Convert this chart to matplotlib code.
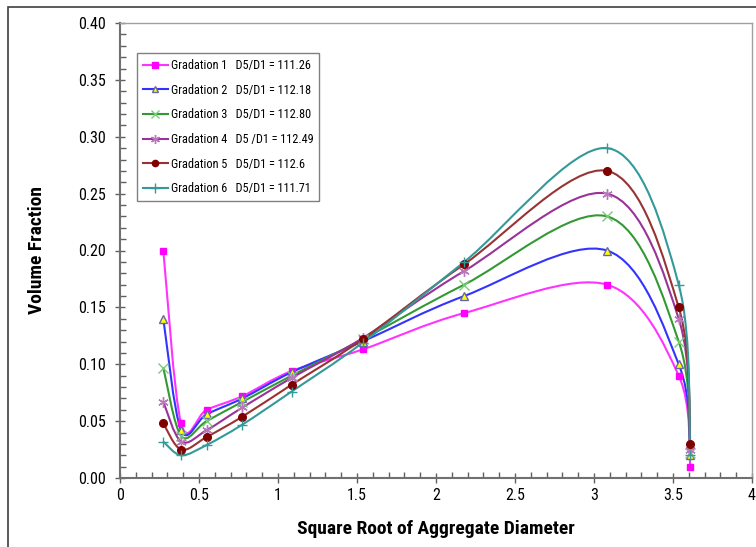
import matplotlib
matplotlib.use('Agg')
import matplotlib.pyplot as plt
from matplotlib.path import Path
from matplotlib.patches import PathPatch, Rectangle
from matplotlib.lines import Line2D
from matplotlib.ticker import MultipleLocator, FormatStrFormatter

plt.rcParams['font.family'] = ['Roboto Condensed', 'DejaVu Sans']

# sieve sizes as square root of aggregate diameter
x = [0.274, 0.387, 0.548, 0.775, 1.086, 1.536, 2.179, 3.082, 3.536, 3.61]

grad1 = [0.200, 0.048, 0.060, 0.072, 0.094, 0.113, 0.145, 0.170, 0.090, 0.010]
grad2 = [0.140, 0.042, 0.056, 0.070, 0.093, 0.120, 0.160, 0.200, 0.100, 0.020]
grad3 = [0.097, 0.037, 0.050, 0.067, 0.090, 0.122, 0.170, 0.230, 0.120, 0.022]
grad4 = [0.067, 0.032, 0.042, 0.062, 0.088, 0.123, 0.182, 0.250, 0.140, 0.025]
grad5 = [0.048, 0.025, 0.036, 0.054, 0.082, 0.122, 0.188, 0.270, 0.150, 0.030]
grad6 = [0.032, 0.020, 0.029, 0.047, 0.076, 0.119, 0.190, 0.290, 0.170, 0.020]

labels = ['Gradation 1   D5/D1 = 111.26',
          'Gradation 2   D5/D1 = 112.18',
          'Gradation 3   D5/D1 = 112.80',
          'Gradation 4   D5 /D1 = 112.49',
          'Gradation 5   D5/D1 = 112.6',
          'Gradation 6   D5/D1 = 111.71']


def smooth_path(xs, ys):
    """Excel-like smoothed line as cubic Bezier segments (Catmull-Rom)"""
    pts = list(zip(xs, ys))
    n = len(pts)
    verts = [pts[0]]
    codes = [Path.MOVETO]
    for i in range(n - 1):
        p0 = pts[i - 1] if i > 0 else pts[i]
        p1 = pts[i]
        p2 = pts[i + 1]
        p3 = pts[i + 2] if i + 2 < n else pts[i + 1]
        c1 = (p1[0] + (p2[0] - p0[0]) / 6, p1[1] + (p2[1] - p0[1]) / 6)
        c2 = (p2[0] - (p3[0] - p1[0]) / 6, p2[1] - (p3[1] - p1[1]) / 6)
        verts += [c1, c2, p2]
        codes += [Path.CURVE4] * 3
    return Path(verts, codes)


series = [
    (grad1, dict(color='#FF33FF', marker='s', mfc='#FF00FF', mec='#FF00FF', ms=5)),
    (grad2, dict(color='#3333FF', marker='^', mfc='#FFFF00', mec='#6666AA', ms=5.5)),
    (grad3, dict(color='#339933', marker='x', mfc='none', mec='#77CC77', ms=6.5)),
    (grad4, dict(color='#993399', marker=(6, 2, 0), mfc='none', mec='#BB77BB', ms=7.5)),
    (grad5, dict(color='#993333', marker='o', mfc='#800000', mec='#800000', ms=5.5)),
    (grad6, dict(color='#339999', marker='+', mfc='none', mec='#339999', ms=7.5)),
]

fig = plt.figure(figsize=(7.56, 5.47), dpi=100)
ax = fig.add_axes([120 / 756, (547 - 478) / 547, 632 / 756, 455 / 547])

# outer chart border
fig.patches.append(Rectangle((8 / 756, -0.1), 1.2, (547 - 7) / 547 + 0.1,
                             transform=fig.transFigure, fill=False,
                             edgecolor='#404040', linewidth=1.2))

handles = []
for ys, st in series:
    ax.add_patch(PathPatch(smooth_path(x, ys), facecolor='none',
                           edgecolor=st['color'], linewidth=1.5, zorder=2))
    ax.plot(x, ys, linestyle='none', marker=st['marker'], markersize=st['ms'],
            markerfacecolor=st['mfc'], markeredgecolor=st['mec'], zorder=3)
    handles.append(Line2D([], [], color=st['color'], linewidth=1.5,
                          marker=st['marker'], markersize=st['ms'] - 1,
                          markerfacecolor=st['mfc'], markeredgecolor=st['mec']))

ax.set_xlim(0, 4)
ax.set_ylim(0, 0.40)
ax.xaxis.set_major_locator(MultipleLocator(0.5))
ax.xaxis.set_minor_locator(MultipleLocator(0.1))
ax.yaxis.set_major_locator(MultipleLocator(0.05))
ax.yaxis.set_minor_locator(MultipleLocator(0.01))
ax.yaxis.set_major_formatter(FormatStrFormatter('%.2f'))
ax.xaxis.set_major_formatter(FormatStrFormatter('%g'))
ax.tick_params(which='major', direction='inout', length=7, width=1,
               color='#606060', labelsize=11.5)
ax.tick_params(axis='y', which='major', pad=7)
ax.tick_params(axis='x', which='major', pad=4)
ax.tick_params(which='minor', direction='in', length=4, width=1, color='#606060')

for s in ['left', 'bottom']:
    ax.spines[s].set_color('#707070')
    ax.spines[s].set_linewidth(1.5)
for s in ['top', 'right']:
    ax.spines[s].set_color('#A0A0A0')
    ax.spines[s].set_linewidth(1.0)

ax.set_xlabel('Square Root of Aggregate Diameter', fontsize=14,
              fontweight='bold', labelpad=12)
ax.set_ylabel('Volume Fraction', fontsize=14, fontweight='bold', labelpad=23)

leg = ax.legend(handles, labels, loc='upper left', bbox_to_anchor=(0.027, 0.934),
                borderaxespad=0, fontsize=8.8, frameon=True, fancybox=False,
                edgecolor='#808080', framealpha=1, handlelength=2.0,
                labelspacing=0.95, borderpad=0.5, handletextpad=0.25)
leg.get_frame().set_linewidth(1.0)

fig.savefig('out.png', dpi=100)
